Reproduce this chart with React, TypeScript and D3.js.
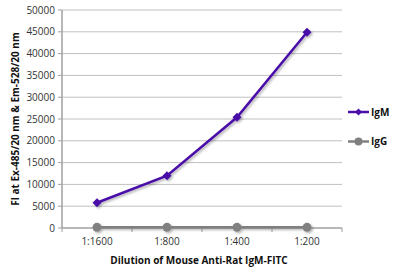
import React from "react";
import * as d3 from "d3";

const categories = ["1:1600", "1:800", "1:400", "1:200"];
const igmValues = [5800, 12000, 25400, 44900];
const iggValues = [150, 150, 150, 150];
const yTicks = [0, 5000, 10000, 15000, 20000, 25000, 30000, 35000, 40000, 45000, 50000];
const seriesNames = ["IgM", "IgG"];

const W = 394, H = 269;
const left = 62, right = 342, top = 10, bottom = 228;

const diamondPath = (r: number) => `M0,${-r}L${r},0L0,${r}L${-r},0Z`;

export default function App() {
  const x = d3.scaleBand<string>().domain(categories).range([left, right]);
  const y = d3.scaleLinear().domain([0, 50000]).range([bottom, top]);
  const cx = (c: string) => (x(c) as number) + x.bandwidth() / 2;
  const line = d3.line<number>().x((_, i) => cx(categories[i])).y((d) => y(d));
  const font = "'Open Sans', 'Liberation Sans', sans-serif";
  const purple = "#4a0da8";
  const gray = "#808080";
  const boundaries = [left, ...categories.map((c) => (x(c) as number) + x.bandwidth())];
  return (
    <svg width={W} height={H} style={{ position: "absolute", left: 0, top: 0 }}>
      <defs>
        <filter id="sh" x="-20%" y="-20%" width="140%" height="140%">
          <feDropShadow dx="1.5" dy="1.5" stdDeviation="1" floodColor="#000" floodOpacity="0.3" />
        </filter>
      </defs>
      <rect width={W} height={H} fill="#fff" />
      {yTicks.map((t) => (
        <g key={t}>
          {t > 0 && <line x1={left} x2={right} y1={y(t)} y2={y(t)} stroke="#c0c0c0" strokeWidth={1} />}
          <line x1={left - 4} x2={left} y1={y(t)} y2={y(t)} stroke="#a0a0a0" strokeWidth={1} />
          <text x={left - 7} y={y(t)} dy="0.35em" textAnchor="end" fontFamily={font} fontSize={10} fill="#333">{t}</text>
        </g>
      ))}
      <line x1={left} x2={left} y1={top} y2={bottom} stroke="#a0a0a0" strokeWidth={1.5} />
      <line x1={left} x2={right} y1={bottom} y2={bottom} stroke="#a0a0a0" strokeWidth={1.5} />
      {boundaries.map((b, i) => (
        <line key={i} x1={b} x2={b} y1={bottom} y2={bottom + 4} stroke="#a0a0a0" strokeWidth={1} />
      ))}
      {categories.map((c) => (
        <text key={c} x={cx(c)} y={bottom + 17} textAnchor="middle" fontFamily={font} fontSize={10} fill="#333">{c}</text>
      ))}
      <g filter="url(#sh)">
        <path d={line(iggValues) as string} fill="none" stroke={gray} strokeWidth={2.5} />
        {iggValues.map((v, i) => (
          <circle key={i} cx={cx(categories[i])} cy={y(v)} r={4.5} fill={gray} />
        ))}
        <path d={line(igmValues) as string} fill="none" stroke={purple} strokeWidth={2.5} />
        {igmValues.map((v, i) => (
          <path key={i} d={diamondPath(4.5)} transform={`translate(${cx(categories[i])},${y(v)})`} fill={purple} />
        ))}
      </g>
      <text transform={`translate(15,${(top + bottom) / 2}) rotate(-90)`} textAnchor="middle" dy="0.35em" fontFamily={font} fontWeight="bold" fontSize={10} fill="#111">Fl at Ex-485/20 nm &amp; Em-528/20 nm</text>
      <text x={199} y={264} textAnchor="middle" fontFamily={font} fontWeight="bold" fontSize={10} fill="#111">Dilution of Mouse Anti-Rat IgM-FITC</text>
      {seriesNames.map((s, i) => {
        const ly = 112 + i * 29.5;
        const col = i === 0 ? purple : gray;
        return (
          <g key={s}>
            <line x1={348} x2={369} y1={ly} y2={ly} stroke={col} strokeWidth={2.5} />
            {i === 0 ? (
              <path d={diamondPath(3.5)} transform={`translate(358.5,${ly})`} fill={col} />
            ) : (
              <circle cx={358.5} cy={ly} r={4} fill={col} />
            )}
            <text x={371} y={ly} dy="0.35em" fontFamily={font} fontWeight="bold" fontSize={10} fill="#111">{s}</text>
          </g>
        );
      })}
    </svg>
  );
}
